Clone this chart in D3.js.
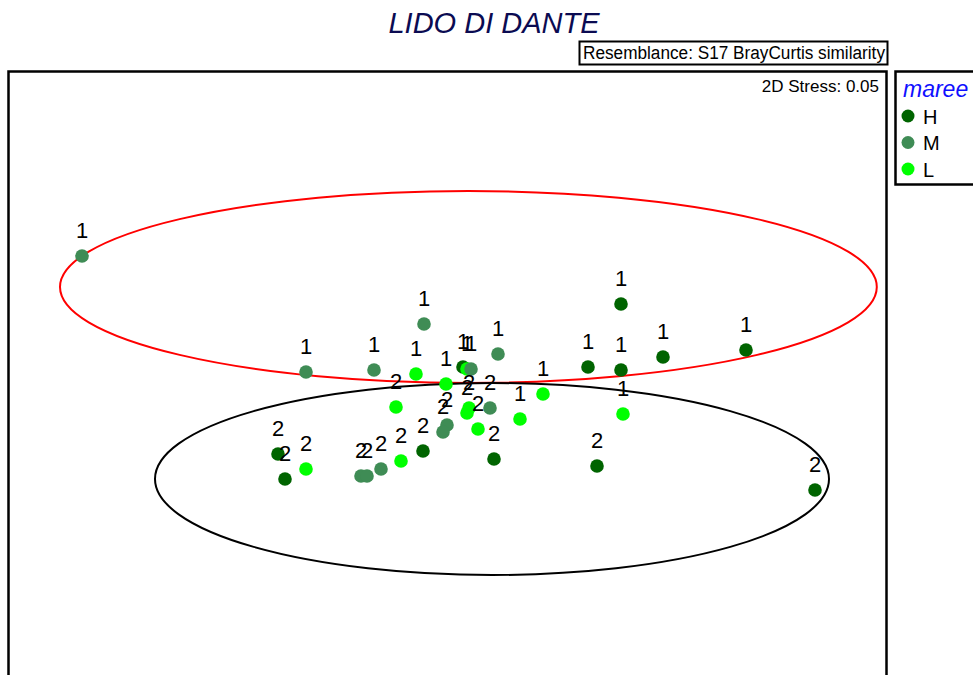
<!DOCTYPE html>
<html>
<head>
<meta charset="utf-8">
<script src="https://cdn.jsdelivr.net/npm/d3@7"></script>
<style>
  body { margin: 0; background: #ffffff; }
  text { font-family: "Liberation Sans", Arial, sans-serif; }
</style>
</head>
<body>
<div id="chart"></div>
<script>
// MDS coordinates
var group1X = [-0.92, -0.36, -0.19, -0.065, -0.085, -0.01, 0.0325, 0.0425, 0.0525, 0.12, 0.2325, 0.175, 0.345, 0.4275, 0.4275, 0.4325, 0.5325, 0.74];
var group1Y = [0.31, 0.02, 0.025, 0.14, 0.015, -0.01, 0.0325, 0.0275, 0.0275, 0.065, -0.035, -0.0975, 0.0325, 0.19, 0.025, -0.085, 0.0575, 0.075];
var group1Tide = ["M", "M", "M", "M", "L", "L", "H", "L", "M", "M", "L", "L", "H", "H", "H", "L", "H", "H"];

var group2X = [-0.43, -0.4125, -0.36, -0.2225, -0.2075, -0.1725, -0.1225, -0.0675, -0.135, -0.0075, -0.0175, 0.0475, 0.0425, 0.07, 0.1, 0.11, 0.3675, 0.9125];
var group2Y = [-0.185, -0.2475, -0.2225, -0.24, -0.24, -0.2225, -0.2025, -0.1775, -0.0675, -0.1125, -0.13, -0.07, -0.0825, -0.1225, -0.07, -0.1975, -0.215, -0.275];
var group2Tide = ["H", "H", "L", "M", "M", "M", "L", "H", "L", "M", "M", "L", "L", "L", "M", "H", "H", "H"];

// cluster ellipses: centre x, centre y, radius x, radius y
var ellipse1 = [0.046, 0.2325, 1.021, 0.24];
var ellipse2 = [0.105, -0.2475, 0.8425, 0.24];

var tideLevels = ["H", "M", "L"];
var tideColors = ["#006400", "#3f8c55", "#00ff00"];

var width = 973, height = 675;

var svg = d3.select("#chart")
    .append("svg")
    .attr("width", width)
    .attr("height", height);

var x = d3.scaleLinear().domain([-1, 1]).range([50, 850]);
var y = d3.scaleLinear().domain([-1, 1]).range([780, -20]);
var color = d3.scaleOrdinal().domain(tideLevels).range(tideColors);

// title
svg.append("text")
    .attr("x", 494)
    .attr("y", 33)
    .attr("text-anchor", "middle")
    .style("font-size", "29px")
    .style("font-style", "italic")
    .style("fill", "#0b0b52")
    .text("LIDO DI DANTE");

// resemblance box
svg.append("rect")
    .attr("x", 579.5)
    .attr("y", 41.5)
    .attr("width", 308)
    .attr("height", 23)
    .style("fill", "none")
    .style("stroke", "#000")
    .style("stroke-width", 2);

svg.append("text")
    .attr("x", 583)
    .attr("y", 59)
    .attr("textLength", 302)
    .attr("lengthAdjust", "spacingAndGlyphs")
    .style("font-size", "18px")
    .text("Resemblance: S17 BrayCurtis similarity");

// plot frame
svg.append("rect")
    .attr("x", 8.5)
    .attr("y", 71.5)
    .attr("width", 878)
    .attr("height", 700)
    .style("fill", "none")
    .style("stroke", "#000")
    .style("stroke-width", 2.5);

svg.append("text")
    .attr("x", 879)
    .attr("y", 92)
    .attr("text-anchor", "end")
    .style("font-size", "17px")
    .text("2D Stress: 0.05");

// ellipses
function drawEllipse(e, stroke) {
    svg.append("ellipse")
        .attr("cx", x(e[0]))
        .attr("cy", y(e[1]))
        .attr("rx", x(e[2]) - x(0))
        .attr("ry", y(0) - y(e[3]))
        .style("fill", "none")
        .style("stroke", stroke)
        .style("stroke-width", 2);
}
drawEllipse(ellipse1, "#ff0000");
drawEllipse(ellipse2, "#000000");

var points = [];
group1X.forEach(function(v, i) {
    points.push({ x: v, y: group1Y[i], tide: group1Tide[i], label: "1" });
});
group2X.forEach(function(v, i) {
    points.push({ x: v, y: group2Y[i], tide: group2Tide[i], label: "2" });
});

svg.selectAll(".pt")
    .data(points)
    .enter()
    .append("circle")
    .attr("class", "pt")
    .attr("cx", function(d) { return x(d.x); })
    .attr("cy", function(d) { return y(d.y); })
    .attr("r", 6.8)
    .style("fill", function(d) { return color(d.tide); });

svg.selectAll(".lbl")
    .data(points)
    .enter()
    .append("text")
    .attr("class", "lbl")
    .attr("x", function(d) { return x(d.x); })
    .attr("y", function(d) { return y(d.y) - 18; })
    .attr("text-anchor", "middle")
    .style("font-size", "22px")
    .style("fill", "#000")
    .text(function(d) { return d.label; });

// legend
svg.append("rect")
    .attr("x", 895.5)
    .attr("y", 71.5)
    .attr("width", 90)
    .attr("height", 113)
    .style("fill", "none")
    .style("stroke", "#000")
    .style("stroke-width", 2.5);

svg.append("text")
    .attr("x", 903)
    .attr("y", 97)
    .style("font-size", "23px")
    .style("font-style", "italic")
    .style("fill", "#1010ff")
    .text("maree");

var legend = svg.selectAll(".leg")
    .data(tideLevels)
    .enter()
    .append("g")
    .attr("class", "leg")
    .attr("transform", function(d, i) { return "translate(908," + (116 + i * 26.5) + ")"; });

legend.append("circle")
    .attr("r", 6.5)
    .style("fill", function(d) { return color(d); });

legend.append("text")
    .attr("x", 15)
    .attr("y", 7.5)
    .style("font-size", "20px")
    .text(function(d) { return d; });
</script>
</body>
</html>
